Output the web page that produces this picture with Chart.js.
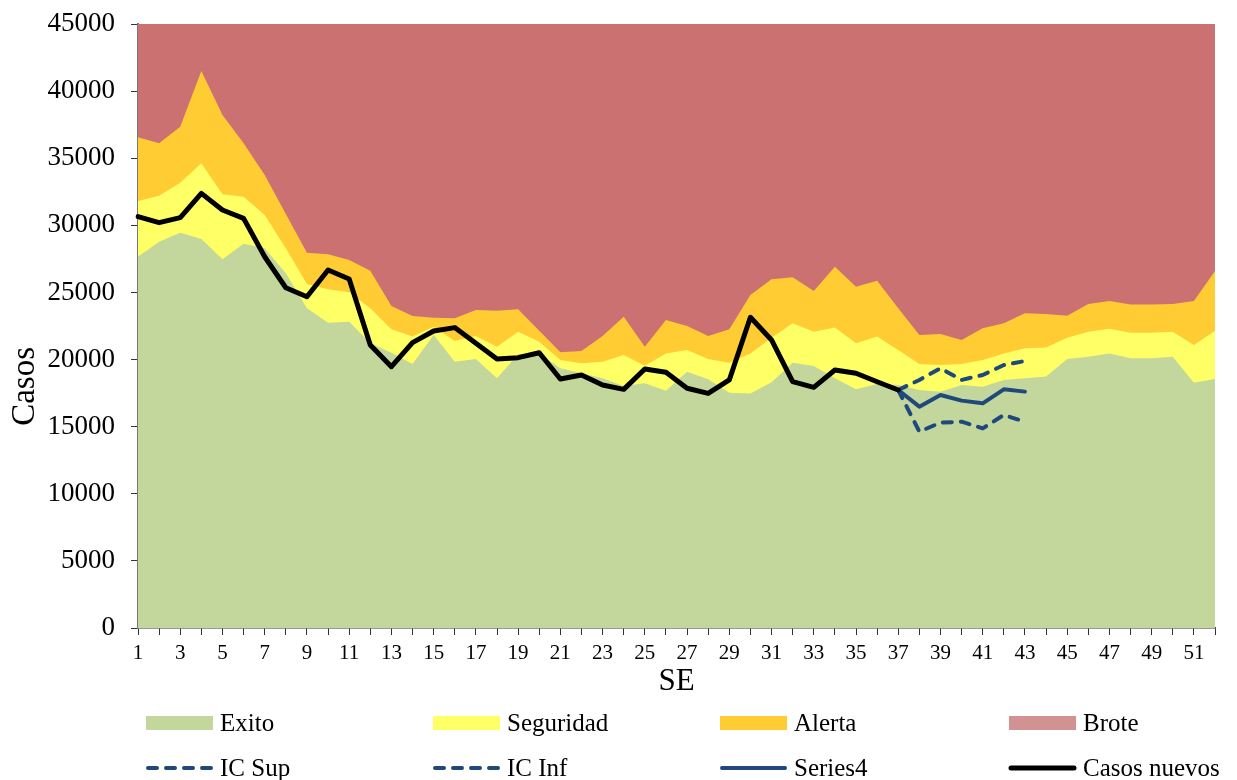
<!DOCTYPE html>
<html>
<head>
<meta charset="utf-8">
<title>Canal endémico</title>
<script src="https://cdn.jsdelivr.net/npm/chart.js@4.4.0/dist/chart.umd.min.js"></script>
<style>
  html, body { margin: 0; padding: 0; background: #fff; }
  #wrap { width: 1237px; height: 780px; }
</style>
</head>
<body>
<div id="wrap"><canvas id="canal" width="1237" height="780"></canvas></div>
<script>
// semanas epidemiologicas
const semanas = ['1','2','3','4','5','6','7','8','9','10','11','12','13','14','15','16','17','18','19','20',
  '21','22','23','24','25','26','27','28','29','30','31','32','33','34','35','36','37','38','39','40',
  '41','42','43','44','45','46','47','48','49','50','51','52'];

// limite superior de cada zona del canal
const exito = [27660, 28780, 29450, 28980, 27470, 28630, 28290, 26430, 23820, 22750, 22820, 21210, 20510,
  19670, 21830, 19840, 20040, 18600, 20400, 20450, 19350, 18980, 18600, 18030, 18230, 17680, 19100, 18530,
  17530, 17480, 18300, 19770, 19520, 18600, 17780, 18180, 18100, 17730, 17600, 18100, 17980, 18480, 18600,
  18730, 20040, 20210, 20460, 20090, 20090, 20210, 18280, 18550];
const seguridad = [31810, 32210, 33180, 34620, 32310, 32130, 30770, 28290, 25630, 25230, 25010, 23820, 22250,
  21710, 22450, 21380, 21750, 20960, 22080, 21330, 19970, 19720, 19840, 20340, 19540, 20460, 20710, 20040,
  19770, 20460, 21630, 22700, 22080, 22380, 21210, 21710, 20710, 19670, 19590, 19670, 19970, 20460, 20840,
  20890, 21630, 22080, 22300, 22000, 22000, 22080, 21080, 22150];
const alerta = [36560, 36110, 37350, 41500, 38220, 36110, 33750, 30840, 27960, 27840, 27420, 26620, 23990,
  23240, 23120, 23070, 23690, 23640, 23740, 22150, 20540, 20640, 21750, 23190, 20960, 22950, 22500, 21750,
  22250, 24810, 25980, 26130, 25110, 26920, 25430, 25880, 23820, 21830, 21900, 21460, 22330, 22700, 23450,
  23390, 23270, 24140, 24360, 24110, 24110, 24140, 24360, 26600];
const brote = [45000, 45000, 45000, 45000, 45000, 45000, 45000, 45000, 45000, 45000, 45000, 45000, 45000,
  45000, 45000, 45000, 45000, 45000, 45000, 45000, 45000, 45000, 45000, 45000, 45000, 45000, 45000, 45000,
  45000, 45000, 45000, 45000, 45000, 45000, 45000, 45000, 45000, 45000, 45000, 45000, 45000, 45000, 45000,
  45000, 45000, 45000, 45000, 45000, 45000, 45000, 45000, 45000];

// casos observados, semanas 1 a 37
const casosNuevos = [30650, 30200, 30570, 32380, 31140, 30520, 27660, 25350, 24680, 26670, 26000, 21080,
  19470, 21260, 22130, 22380, 21210, 20040, 20140, 20510, 18550, 18850, 18100, 17780, 19300, 19050, 17860,
  17480, 18480, 23150, 21460, 18350, 17930, 19220, 18980, 18350, 17730];

// proyeccion, semanas 37 a 43
const semanasProy = ['37','38','39','40','41','42','43'];
const icSup = [17730, 18480, 19350, 18480, 18850, 19590, 19890];
const icInf = [17730, 14630, 15300, 15370, 14870, 15870, 15370];
const series4 = [17730, 16490, 17360, 16940, 16740, 17780, 17610];

const marcasY = [0, 5000, 10000, 15000, 20000, 25000, 30000, 35000, 40000, 45000];

const fuente = 'Liberation Serif';

function zona(label, data, color, order, legendColor) {
  return {
    label: label, data: data, backgroundColor: color, legendColor: legendColor || color,
    borderWidth: 0, pointRadius: 0, fill: 'origin', order: order, tension: 0
  };
}

function linea(label, data, color, width, dash, order) {
  return {
    label: label, data: data, borderColor: color, backgroundColor: color, borderWidth: width,
    borderDash: dash, borderCapStyle: 'round', borderJoinStyle: 'round',
    pointRadius: 0, fill: false, order: order, tension: 0
  };
}

function proy(valores) {
  return semanasProy.map((s, i) => ({ x: s, y: valores[i] }));
}

// titulo del eje y, algo por debajo del centro del area
const tituloY = {
  id: 'tituloY',
  afterDraw(chart) {
    const c = chart.ctx;
    const a = chart.chartArea;
    c.save();
    c.translate(25, a.top + (a.bottom - a.top) * 0.6);
    c.rotate(-Math.PI / 2);
    c.fillStyle = '#000';
    c.font = '33px "' + fuente + '"';
    c.textAlign = 'center';
    c.textBaseline = 'middle';
    c.fillText('Casos', 0, 0);
    c.restore();
  }
};

// leyenda en cuadricula de 4 columnas
const leyenda = {
  id: 'leyenda',
  afterDraw(chart) {
    const c = chart.ctx;
    const cols = [146, 433, 720, 1009];
    const filas = [723, 768];
    chart.data.datasets.forEach((ds, i) => {
      const x = cols[i % 4];
      const y = filas[Math.floor(i / 4)];
      c.save();
      if (ds.fill) {
        c.fillStyle = ds.legendColor;
        c.fillRect(x, y - 7, 67, 14);
      } else {
        c.strokeStyle = ds.borderColor;
        c.lineWidth = ds.borderWidth;
        c.lineCap = 'round';
        c.setLineDash(ds.borderDash || []);
        c.beginPath();
        c.moveTo(x + 2, y);
        c.lineTo(x + 65, y);
        c.stroke();
        c.setLineDash([]);
      }
      c.fillStyle = '#000';
      c.font = '25px "' + fuente + '"';
      c.textBaseline = 'middle';
      c.fillText(ds.label, x + 74, y + 1);
      c.restore();
    });
  }
};

const ctx = document.getElementById('canal').getContext('2d');

new Chart(ctx, {
  type: 'line',
  data: {
    labels: semanas,
    datasets: [
      zona('Exito', exito, '#C3D69B', 7),
      zona('Seguridad', seguridad, '#FFFF66', 8),
      zona('Alerta', alerta, '#FFCC33', 9),
      zona('Brote', brote, '#CC7171', 10, '#D39292'),
      linea('IC Sup', proy(icSup), '#1F497D', 4, [9, 9], 2),
      linea('IC Inf', proy(icInf), '#1F497D', 4, [9, 9], 2),
      linea('Series4', proy(series4), '#1F497D', 4, [], 1),
      linea('Casos nuevos', casosNuevos, '#000000', 5, [], 0)
    ]
  },
  options: {
    responsive: false,
    animation: false,
    devicePixelRatio: 1,
    layout: { padding: { top: 24, right: 22, bottom: 80, left: 0 } },
    plugins: {
      legend: { display: false },
      tooltip: { enabled: false }
    },
    scales: {
      x: {
        type: 'category',
        offset: false,
        grid: { drawOnChartArea: false, drawTicks: true, tickLength: 7, color: '#333' },
        border: { color: '#333', width: 1.5 },
        ticks: {
          autoSkip: false, maxRotation: 0, padding: 6, color: '#000',
          font: { family: fuente, size: 21 },
          callback: (v, i) => (i % 2 === 0 ? semanas[i] : '')
        },
        title: {
          display: true, text: 'SE', color: '#000',
          font: { family: fuente, size: 31 }, padding: { top: 0, bottom: 0 }
        },
        afterFit: (s) => { s.height = 72; s.paddingLeft = 0; s.paddingRight = 0; }
      },
      y: {
        min: 0,
        max: 45000,
        afterBuildTicks: (s) => { s.ticks = marcasY.map(v => ({ value: v })); },
        grid: { drawOnChartArea: false, drawTicks: true, tickLength: 7, color: '#333' },
        border: { color: '#777', width: 2 },
        ticks: {
          padding: 16, color: '#000',
          font: { family: fuente, size: 27 },
          callback: (v) => String(v)
        },
        afterFit: (s) => { s.width = 138; s.paddingTop = 0; s.paddingBottom = 0; }
      }
    }
  },
  plugins: [tituloY, leyenda]
});
</script>
</body>
</html>
